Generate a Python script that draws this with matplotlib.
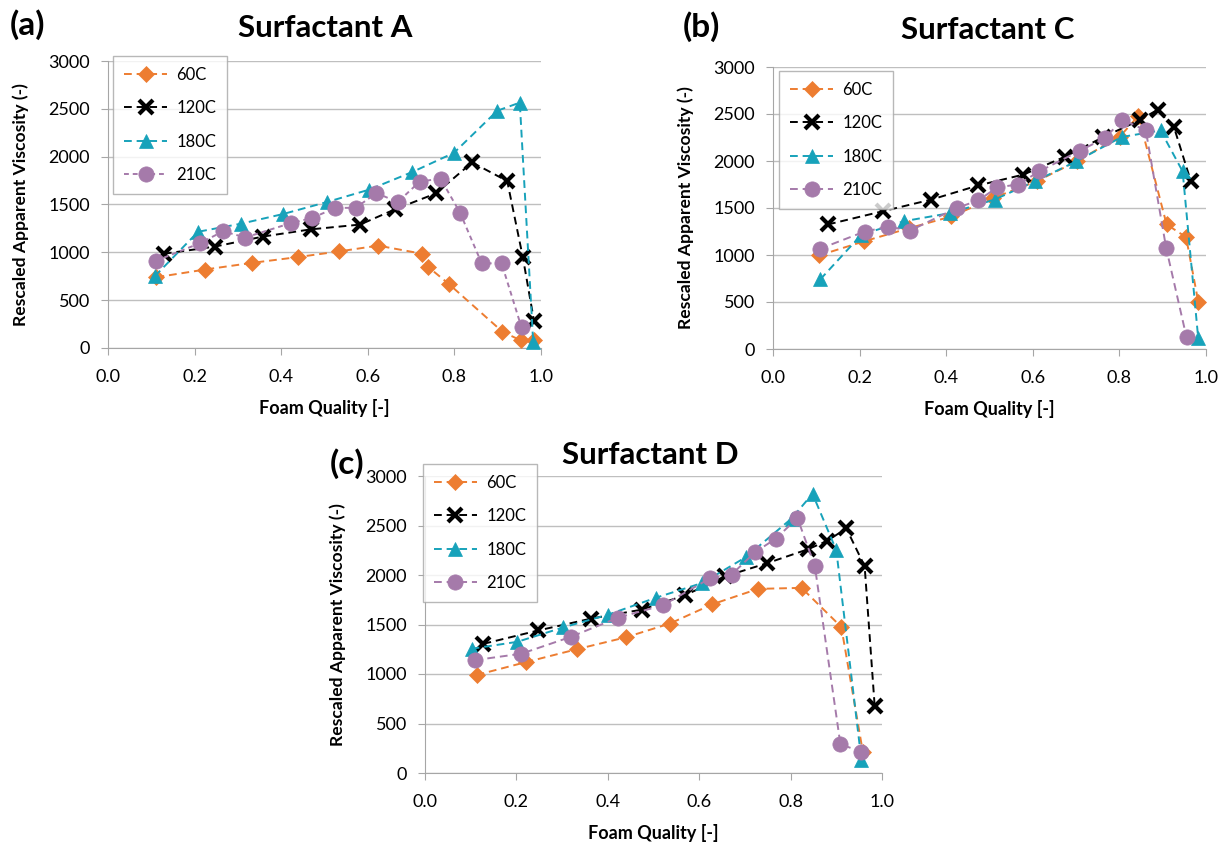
import matplotlib.pyplot as plt
import numpy as np

plt.rcParams['font.family'] = ['Lato', 'DejaVu Sans']

series = ['60C', '120C', '180C', '210C']

# Surfactant A
a_60_x = [0.112, 0.224, 0.333, 0.438, 0.534, 0.624, 0.726, 0.740, 0.787, 0.911, 0.953, 0.984]
a_60_y = [740, 820, 890, 950, 1010, 1070, 985, 845, 670, 170, 80, 85]
a_120_x = [0.129, 0.247, 0.358, 0.468, 0.582, 0.663, 0.757, 0.841, 0.922, 0.958, 0.984]
a_120_y = [985, 1060, 1165, 1240, 1290, 1450, 1615, 1940, 1745, 950, 280]
a_180_x = [0.108, 0.208, 0.308, 0.404, 0.505, 0.603, 0.703, 0.799, 0.899, 0.951, 0.982]
a_180_y = [750, 1215, 1300, 1400, 1525, 1655, 1840, 2040, 2480, 2565, 60]
a_210_x = [0.110, 0.212, 0.266, 0.317, 0.422, 0.472, 0.525, 0.572, 0.620, 0.669,
           0.720, 0.768, 0.813, 0.863, 0.909, 0.955]
a_210_y = [910, 1095, 1220, 1155, 1305, 1360, 1465, 1465, 1620, 1525,
           1740, 1770, 1415, 885, 885, 215]

# Surfactant C
c_60_x = [0.106, 0.210, 0.314, 0.412, 0.508, 0.609, 0.701, 0.801, 0.844, 0.909, 0.954, 0.982]
c_60_y = [995, 1145, 1285, 1410, 1605, 1785, 1995, 2260, 2480, 1325, 1190, 505]
c_120_x = [0.127, 0.253, 0.366, 0.474, 0.578, 0.674, 0.763, 0.847, 0.888, 0.926, 0.965]
c_120_y = [1325, 1465, 1590, 1740, 1855, 2045, 2255, 2435, 2545, 2360, 1785]
c_180_x = [0.109, 0.204, 0.303, 0.408, 0.512, 0.605, 0.700, 0.805, 0.895, 0.946, 0.982]
c_180_y = [740, 1215, 1360, 1445, 1590, 1785, 1995, 2255, 2325, 1890, 115]
c_210_x = [0.108, 0.212, 0.266, 0.317, 0.424, 0.474, 0.518, 0.566, 0.615, 0.709,
           0.767, 0.807, 0.861, 0.908, 0.955]
c_210_y = [1065, 1250, 1300, 1260, 1500, 1580, 1720, 1750, 1890, 2110,
           2245, 2440, 2325, 1075, 125]

# Surfactant D
d_60_x = [0.113, 0.221, 0.332, 0.439, 0.536, 0.629, 0.729, 0.824, 0.911, 0.958]
d_60_y = [990, 1120, 1250, 1370, 1510, 1705, 1860, 1870, 1475, 215]
d_120_x = [0.128, 0.248, 0.364, 0.474, 0.569, 0.656, 0.749, 0.838, 0.880, 0.922, 0.962, 0.984]
d_120_y = [1305, 1440, 1560, 1650, 1795, 1985, 2120, 2260, 2345, 2470, 2090, 675]
d_180_x = [0.102, 0.202, 0.302, 0.401, 0.505, 0.607, 0.702, 0.802, 0.848, 0.900, 0.955]
d_180_y = [1255, 1325, 1470, 1600, 1770, 1920, 2180, 2570, 2820, 2250, 130]
d_210_x = [0.109, 0.211, 0.319, 0.423, 0.521, 0.623, 0.671, 0.722, 0.767, 0.815,
           0.853, 0.909, 0.955]
d_210_y = [1140, 1205, 1375, 1570, 1695, 1965, 2005, 2230, 2365, 2575,
           2090, 290, 215]

colors = ['#ED7D31', '#000000', '#17A2BA', '#A57AAA']
markers = ['D', 'x', '^', 'o']
msizes = [8, 10, 9.5, 11]
mews = [0.5, 3, 0.5, 0.5]

W, H = 1226, 844
fig = plt.figure(figsize=(W / 100, H / 100), dpi=100)


def px_axes(x0, y0, x1, y1):
    return fig.add_axes([x0 / W, 1 - y1 / H, (x1 - x0) / W, (y1 - y0) / H])


def draw_panel(ax, data, styles, title, tag, tag_xy, title_xy, leg_xy):
    for i, (xs, ys) in enumerate(data):
        ax.plot(xs, ys, linestyle=styles[i], color=colors[i], lw=1.4,
                marker=markers[i], ms=msizes[i], mew=mews[i],
                mec=colors[i], mfc=colors[i], label=series[i], clip_on=False,
                zorder=3 + i)
    ax.set_xlim(0, 1)
    ax.set_ylim(0, 3000)
    ax.set_xticks(np.arange(0, 1.01, 0.2))
    ax.set_xticklabels(['%.1f' % v for v in np.arange(0, 1.01, 0.2)])
    ax.set_yticks(range(0, 3001, 500))
    ax.yaxis.grid(True, color='#BFBFBF', lw=1)
    ax.set_axisbelow(True)
    for s in ['top', 'right']:
        ax.spines[s].set_visible(False)
    for s in ['left', 'bottom']:
        ax.spines[s].set_color('#A6A6A6')
    ax.tick_params(axis='x', length=5, color='#A6A6A6', labelsize=13, pad=10)
    ax.tick_params(axis='y', length=5, color='#A6A6A6', labelsize=13, pad=8)
    ax.set_xlabel('Foam Quality [-]', fontsize=13, fontweight='bold', labelpad=10)
    ax.set_ylabel('Rescaled Apparent Viscosity (-)', fontsize=12.6,
                  fontweight='bold', labelpad=14)
    fig.text(title_xy[0] / W, 1 - title_xy[1] / H, title, fontsize=22.5,
             fontweight='bold', ha='center', va='center')
    fig.text(tag_xy[0] / W, 1 - tag_xy[1] / H, tag, fontsize=24,
             fontweight='bold', ha='left', va='center')
    leg = ax.legend(loc='upper left', bbox_to_anchor=(leg_xy[0] / W, 1 - leg_xy[1] / H),
                    bbox_transform=fig.transFigure, fontsize=12, frameon=True,
                    fancybox=False, edgecolor='#A6A6A6', handlelength=2.6,
                    labelspacing=1.05, borderpad=0.65, handletextpad=0.55,
                    borderaxespad=0)
    leg.get_frame().set_linewidth(1)
    leg.set_zorder(10)


dash = (0, (4, 2.5))
short = (0, (2.5, 2))

ax_a = px_axes(108, 61, 541, 348)
draw_panel(ax_a, [(a_60_x, a_60_y), (a_120_x, a_120_y), (a_180_x, a_180_y), (a_210_x, a_210_y)],
           [dash, dash, dash, short], 'Surfactant A', '(a)', (10, 25), (325, 28), (113, 56))

ax_c = px_axes(773, 67, 1206, 349)
draw_panel(ax_c, [(c_60_x, c_60_y), (c_120_x, c_120_y), (c_180_x, c_180_y), (c_210_x, c_210_y)],
           [dash, dash, dash, dash], 'Surfactant C', '(b)', (683, 27), (988, 30), (779, 71))

ax_d = px_axes(425, 476, 882, 773)
draw_panel(ax_d, [(d_60_x, d_60_y), (d_120_x, d_120_y), (d_180_x, d_180_y), (d_210_x, d_210_y)],
           [dash, dash, dash, dash], 'Surfactant D', '(c)', (330, 464), (650, 455), (423, 464))

fig.savefig('out.png', dpi=100)
